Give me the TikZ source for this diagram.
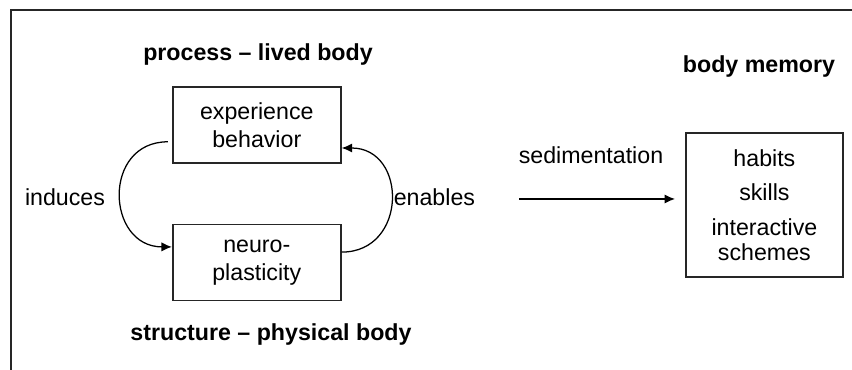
\documentclass[tikz,border=0pt]{standalone}
\usepackage{fontspec}
\setmainfont{Liberation Sans}
\usepackage{tikz}
\usetikzlibrary{arrows.meta,calc,positioning}

\begin{document}
\begin{tikzpicture}[
    font=\fontsize{16.5pt}{19.8pt}\selectfont,
    box/.style ={draw=black!85, line width=1.3pt, align=center, inner sep=0pt,
                 minimum width=4.2cm, minimum height=1.9cm},
    arr/.style ={-{Latex[length=2.6mm, width=2.3mm]}, line width=0.9pt, draw=black},
    frm/.style ={line width=1.3pt, draw=black!85},
    ttl/.style ={font=\fontsize{16.5pt}{19.8pt}\selectfont\bfseries},
  ]
  \useasboundingbox (0,0) rectangle (21.3,9.25);
  % outer frame (cut at right and bottom)
  \draw[frm] (0.275,0) |- (21.3,9.0);
  % lived body / physical body loop
  \node[box] (exp) at (6.42,6.125) {experience\\behavior};
  \node[box] (neuro) at (6.42,2.6875) {neuro-\\plasticity};
  \node[ttl] (proc) at (6.45,7.875) {process -- lived body};
  \node[ttl] (struct) at (6.775,0.875) {structure -- physical body};
  \node (ind) at (1.625,4.325) {induces};
  \node[anchor=west] (enb) at (9.72,4.325) {enables};
  % body memory
  \node[box, minimum width=3.925cm, minimum height=3.6cm] (mem) at (19.11,4.125)
       {habits\\[4.5pt] skills\\[5pt] interactive\\[-2pt] schemes};
  \node[ttl] (memt) at (18.975,7.575) {body memory};
  \node (sed) at (14.775,5.375) {sedimentation};
  % arrows
  \coordinate (sedbeg) at (12.975,4.275);
  \draw[arr] ($(exp.west)+(-0.1,-0.42)$) .. controls +(-1.65,0) and +(-1.65,0) .. ($(neuro.west)+(0,0.39)$);
  \draw[arr] ($(neuro.east)+(0,0.26)$) .. controls +(1.65,0) and +(1.65,0) .. ($(exp.east)+(0,-0.575)$);
  \draw[arr, shorten >=0.25cm] (sedbeg) -- (sedbeg -| mem.west);
\end{tikzpicture}
\end{document}
